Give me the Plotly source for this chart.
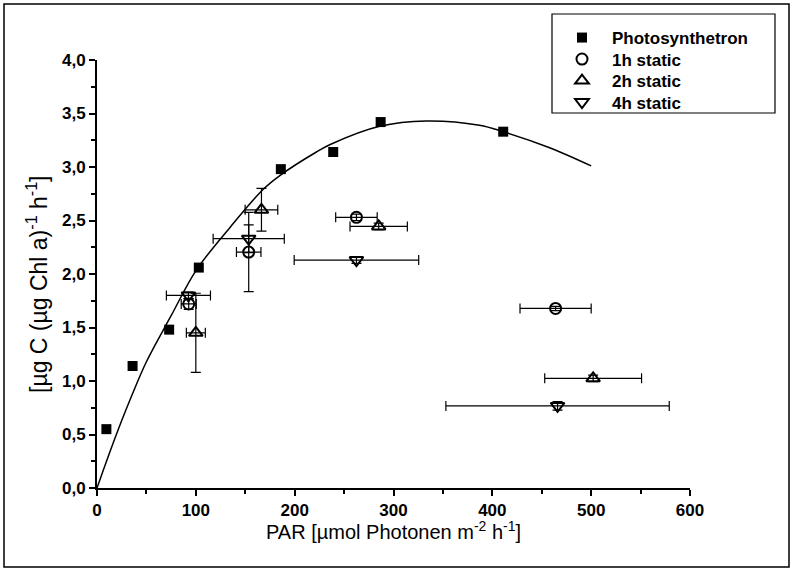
import plotly.graph_objects as go

# Photosynthetron (filled squares)
ps_x = [9.5, 36, 73, 103, 186, 239, 287, 411]
ps_y = [0.55, 1.14, 1.48, 2.06, 2.98, 3.14, 3.42, 3.33]

# P-I curve
curve_x = [0, 10, 25, 35, 50, 75, 100, 135, 168, 185, 222, 236, 286, 333, 387, 411, 458, 500]
curve_y = [0, 0.26, 0.63, 0.86, 1.18, 1.61, 2.03, 2.44, 2.79, 2.92, 3.14, 3.21, 3.38, 3.43, 3.39, 3.33, 3.18, 3.01]

# 1h static (open circles)
h1_x = [92.8, 153.5, 262.5, 464]
h1_y = [1.72, 2.205, 2.53, 1.678]
h1_xerr = [7.6, 12.4, 21, 36]
h1_yerr = [0.05, 0.37, 0.03, 0.02]

# 2h static (open up-triangles)
h2_x = [100, 166.4, 285, 502]
h2_y = [1.45, 2.60, 2.445, 1.025]
h2_xerr = [9.6, 16.5, 29, 49]
h2_yerr = [0.37, 0.2, 0.03, 0.03]

# 4h static (open down-triangles)
h4_x = [92.5, 153.5, 262.5, 466]
h4_y = [1.80, 2.33, 2.13, 0.767]
h4_xerr = [22.3, 36, 63, 113]
h4_yerr = [0.03, 0.13, 0.03, 0.04]

series_names = ["Photosynthetron", "1h static", "2h static", "4h static"]

x_ticks = [0, 100, 200, 300, 400, 500, 600]
y_ticks = [0, 0.5, 1.0, 1.5, 2.0, 2.5, 3.0, 3.5, 4.0]
y_tick_text = ["0,0", "0,5", "1,0", "1,5", "2,0", "2,5", "3,0", "3,5", "4,0"]

x_title = "PAR [µmol Photonen m<sup>-2</sup> h<sup>-1</sup>]"
y_title = "[µg C (µg Chl a)<sup>-1</sup> h<sup>-1</sup>]"

FONT = "Liberation Sans, Arial, sans-serif"
BLACK = "black"

# plot area in pixels
L, R, T, B = 97, 690, 60, 488
W, H = 793, 571
PW, PH = R - L, B - T


def px(xp):
    return (xp - L) / PW


def py(yp):
    return (B - yp) / PH


fig = go.Figure()

fig.add_trace(go.Scatter(x=curve_x, y=curve_y, mode="lines", line=dict(color=BLACK, width=1.5, shape="spline"),
                         showlegend=False, hoverinfo="skip"))

fig.add_trace(go.Scatter(x=ps_x, y=ps_y, mode="markers", name=series_names[0], legend="legend",
                         marker=dict(symbol="square", size=10, color=BLACK)))


def err(v):
    return dict(type="data", array=v, visible=True, color=BLACK, thickness=1.2, width=5)


fig.add_trace(go.Scatter(x=h1_x, y=h1_y, mode="markers", name=series_names[1], legend="legend2",
                         error_x=err(h1_xerr), error_y=err(h1_yerr),
                         marker=dict(symbol="circle-open", size=11, color=BLACK, line=dict(width=2, color=BLACK))))
fig.add_trace(go.Scatter(x=h2_x, y=h2_y, mode="markers", name=series_names[2], legend="legend3",
                         error_x=err(h2_xerr), error_y=err(h2_yerr),
                         marker=dict(symbol="triangle-up-open", size=12, color=BLACK, line=dict(width=2, color=BLACK))))
fig.add_trace(go.Scatter(x=h4_x, y=h4_y, mode="markers", name=series_names[3], legend="legend4",
                         error_x=err(h4_xerr), error_y=err(h4_yerr),
                         marker=dict(symbol="triangle-down-open", size=12, color=BLACK, line=dict(width=2, color=BLACK))))


def legend_at(top_px):
    return dict(x=px(552), y=py(top_px), xanchor="left", yanchor="top",
                borderwidth=0, bgcolor="rgba(0,0,0,0)",
                font=dict(family=FONT, size=17, color=BLACK, weight="bold"),
                itemwidth=50)


fig.update_layout(
    width=W, height=H,
    margin=dict(l=L, r=W - R, t=T, b=H - B, autoexpand=False),
    paper_bgcolor="white", plot_bgcolor="white",
    font=dict(family=FONT, color=BLACK, size=16),
    legend=legend_at(20),
    legend2=legend_at(41.5),
    legend3=legend_at(63),
    legend4=legend_at(84.5),
    xaxis=dict(range=[0, 600], tickvals=x_ticks, showgrid=False, zeroline=False, automargin=False,
               showline=True, linecolor=BLACK, linewidth=2, ticks="outside", ticklen=6, tickwidth=2,
               tickcolor=BLACK, tickfont=dict(size=17, weight="bold"),
               minor=dict(dtick=50, ticks="outside", ticklen=4, tickwidth=1.5, tickcolor=BLACK, showgrid=False)),
    yaxis=dict(range=[0, 4], tickvals=y_ticks, ticktext=y_tick_text, showgrid=False, zeroline=False, automargin=False,
               showline=True, linecolor=BLACK, linewidth=2, ticks="outside", ticklen=6, tickwidth=2,
               tickcolor=BLACK, tickfont=dict(size=17, weight="bold"),
               minor=dict(dtick=0.25, ticks="outside", ticklen=4, tickwidth=1.5, tickcolor=BLACK, showgrid=False)),
    annotations=[
        dict(text=y_title, textangle=-90, xref="paper", yref="paper",
             x=px(37), y=py(285), xanchor="center", yanchor="middle", showarrow=False,
             font=dict(family=FONT, size=23, color=BLACK)),
        dict(text=x_title, xref="paper", yref="paper",
             x=px(393), y=py(530), xanchor="center", yanchor="middle", showarrow=False,
             font=dict(family=FONT, size=20, color=BLACK)),
    ],
    shapes=[
        dict(type="rect", xref="paper", yref="paper",
             x0=px(4), x1=px(789), y0=py(567), y1=py(4),
             line=dict(color=BLACK, width=1.5)),
        dict(type="rect", xref="paper", yref="paper",
             x0=px(552), x1=px(775), y0=py(113), y1=py(14),
             line=dict(color=BLACK, width=1.2)),
    ],
)

fig.write_html("out.html", config={"displayModeBar": False},
               post_script="document.body.style.margin='0px';")
